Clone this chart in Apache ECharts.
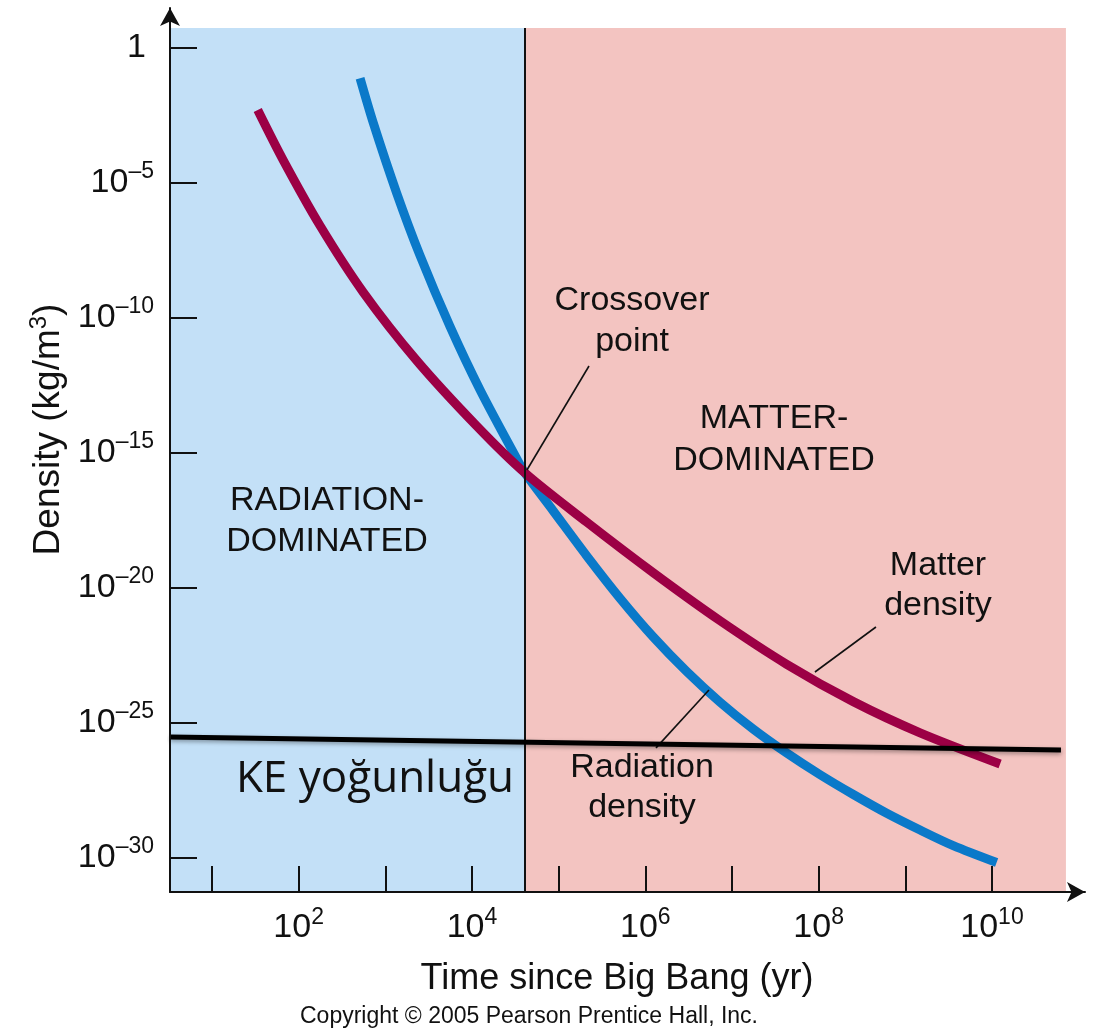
<!DOCTYPE html>
<html>
<head>
<meta charset="utf-8">
<script src="https://cdn.jsdelivr.net/npm/echarts@6/dist/echarts.min.js"></script>
<style>
  html, body { margin: 0; padding: 0; background: #ffffff; }
  #chart { width: 1093px; height: 1031px; }
</style>
</head>
<body>
<div id="chart"></div>
<script>
// ---- Data (years, kg/m^3) ----
const matterTime = [3.37e1, 6.65e1, 1.76e2, 5.57e2, 2.30e3, 1.13e4, 4.08e4, 2.10e5, 1.24e6, 7.26e6, 4.28e7, 2.51e8, 1.48e9, 1.24e10];
const matterDensity = [4.84e-3, 6.61e-5, 2.56e-7, 8.59e-10, 2.56e-12, 9.68e-15, 1.75e-16, 2.66e-18, 3.48e-20, 5.92e-22, 1.43e-23, 5.93e-25, 4.15e-26, 2.91e-27];

const radiationTime = [5.11e2, 7.26e2, 1.35e3, 2.51e3, 5.57e3, 1.24e4, 3.28e4, 4.08e4, 8.67e4, 2.10e5, 5.11e5, 1.24e6, 3.00e6, 7.26e6, 1.76e7, 4.28e7, 1.04e8, 2.51e8, 6.10e8, 1.48e9, 3.57e9, 1.13e10];
const radiationDensity = [7.23e-2, 1.61e-3, 4.12e-6, 2.00e-8, 4.70e-11, 2.08e-13, 5.96e-16, 1.75e-16, 6.84e-18, 1.51e-19, 3.98e-21, 1.45e-22, 7.74e-24, 5.70e-25, 5.69e-26, 7.40e-27, 1.16e-27, 2.15e-28, 4.35e-29, 1.04e-29, 2.75e-30, 6.52e-31];

const keTime = [3.28e0, 6.25e10];
const keDensity = [2.88e-26, 9.55e-27];

const crossoverTime = 4.08e4;

// tick positions as powers of ten
const xTickExp = [1, 2, 3, 4, 5, 6, 7, 8, 9, 10];
const xLabelExp = [2, 4, 6, 8, 10];
const yTickExp = [0, -5, -10, -15, -20, -25, -30];

// ---- Build ----
const FONT = "'Liberation Sans', Arial, Helvetica, sans-serif";
const L = Math.log10;
const toPairs = (ts, ds) => ts.map((t, i) => [L(t), L(ds[i])]);

const X_MIN = 0.5154, X_MAX = 11.073, Y_MIN = -31.278, Y_MAX = 1.463;
const REGION_TOP = 0.722, REGION_RIGHT = 10.853;
const xc = L(crossoverTime);

const rich = {
  b: { fontSize: 34, fontFamily: FONT, color: '#111', lineHeight: 44 },
  one: { fontSize: 34, fontFamily: FONT, color: '#111', lineHeight: 44, padding: [0, 8, 0, 0] },
  s: { fontSize: 23, fontFamily: FONT, color: '#111', lineHeight: 22, verticalAlign: 'top' }
};

const chart = echarts.init(document.getElementById('chart'), null, { renderer: 'canvas' });

const option = {
  backgroundColor: '#ffffff',
  animation: false,
  grid: { left: 170, right: 8, top: 8, bottom: 139, containLabel: false, outerBoundsMode: 'none' },
  xAxis: {
    type: 'value', min: X_MIN, max: X_MAX, z: 8,
    axisLine: { show: true, onZero: false, symbol: ['none', 'arrow'], symbolSize: [15, 18], lineStyle: { color: '#111', width: 2 } },
    axisTick: { show: true, inside: true, length: 26, customValues: xTickExp, lineStyle: { color: '#111', width: 2 } },
    axisLabel: {
      show: true, customValues: xLabelExp, margin: 14,
      formatter: v => '{b|10}{s|' + v + '}', rich: rich
    },
    splitLine: { show: false },
    name: 'Time since Big Bang (yr)', nameLocation: 'middle', nameGap: 69,
    nameTextStyle: { fontSize: 36, fontFamily: FONT, color: '#111', padding: [0, 21, 0, 0] }
  },
  yAxis: {
    type: 'value', min: Y_MIN, max: Y_MAX, z: 8,
    axisLine: { show: true, onZero: false, symbol: ['none', 'arrow'], symbolSize: [15, 18], lineStyle: { color: '#111', width: 2 } },
    axisTick: { show: true, inside: true, length: 27, customValues: yTickExp, lineStyle: { color: '#111', width: 2 } },
    axisLabel: {
      show: true, customValues: yTickExp, margin: 16,
      formatter: v => v === 0 ? '{one|1}' : '{b|10}{s|\u2013' + (-v) + '}', rich: rich
    },
    splitLine: { show: false },
    name: '{a|Density (kg/m}{t|3}{a|)}', nameLocation: 'middle', nameGap: 100,
    nameTextStyle: {
      padding: [0, 0, 0, 41],
      rich: {
        a: { fontSize: 37, fontFamily: FONT, color: '#111', lineHeight: 42 },
        t: { fontSize: 24, fontFamily: FONT, color: '#111', lineHeight: 24, verticalAlign: 'top' }
      }
    }
  },
  series: [
    {
      type: 'line', data: [], z: 1, silent: true,
      markArea: {
        silent: true,
        data: [
          [{ coord: [X_MIN, Y_MIN], itemStyle: { color: '#c3e0f7' } }, { coord: [xc, REGION_TOP] }],
          [{ coord: [xc, Y_MIN], itemStyle: { color: '#f3c4c1' } }, { coord: [REGION_RIGHT, REGION_TOP] }]
        ]
      }
    },
    {
      type: 'line', data: [], z: 2, silent: true,
      markLine: {
        silent: true, symbol: ['none', 'none'], label: { show: false },
        lineStyle: { color: '#111', width: 2, type: 'solid' },
        data: [
          [{ coord: [xc, REGION_TOP] }, { coord: [xc, Y_MIN] }],
          [{ coord: [5.350, -11.796], lineStyle: { width: 1.6 } }, { coord: [4.634, -15.648] }],
          [{ coord: [8.661, -21.463], lineStyle: { width: 1.6 } }, { coord: [7.957, -23.13] }],
          [{ coord: [6.734, -23.796], lineStyle: { width: 1.6 } }, { coord: [6.123, -25.94] }]
        ]
      }
    },
    {
      name: 'Radiation density', type: 'line', z: 3,
      data: toPairs(radiationTime, radiationDensity),
      smooth: 0.3, showSymbol: false,
      lineStyle: { color: '#0a79c9', width: 9, cap: 'butt' }
    },
    {
      name: 'Matter density', type: 'line', z: 4,
      data: toPairs(matterTime, matterDensity),
      smooth: 0.3, showSymbol: false,
      lineStyle: { color: '#9c0045', width: 9, cap: 'butt' }
    },
    {
      name: 'KE yoğunluğu', type: 'line', z: 5,
      data: toPairs(keTime, keDensity),
      showSymbol: false,
      lineStyle: { color: '#000', width: 5, shadowBlur: 4, shadowColor: 'rgba(0,0,0,0.35)', shadowOffsetY: 2 }
    }
  ],
  graphic: [
    { type: 'text', x: 632, y: 321, z: 10, style: { text: 'Crossover\npoint', fontSize: 34, fontFamily: FONT, fill: '#111', align: 'center', verticalAlign: 'middle', lineHeight: 41 } },
    { type: 'text', x: 774, y: 440, z: 10, style: { text: 'MATTER-\nDOMINATED', fontSize: 34, fontFamily: FONT, fill: '#111', align: 'center', verticalAlign: 'middle', lineHeight: 42 } },
    { type: 'text', x: 327, y: 521, z: 10, style: { text: 'RADIATION-\nDOMINATED', fontSize: 34, fontFamily: FONT, fill: '#111', align: 'center', verticalAlign: 'middle', lineHeight: 41 } },
    { type: 'text', x: 938, y: 586, z: 10, style: { text: 'Matter\ndensity', fontSize: 34, fontFamily: FONT, fill: '#111', align: 'center', verticalAlign: 'middle', lineHeight: 40 } },
    { type: 'text', x: 642, y: 788, z: 10, style: { text: 'Radiation\ndensity', fontSize: 34, fontFamily: FONT, fill: '#111', align: 'center', verticalAlign: 'middle', lineHeight: 40 } },
    { type: 'text', x: 375, y: 779, z: 10, style: { text: 'KE yoğunluğu', fontSize: 44, fontFamily: "'Open Sans', 'Noto Sans', sans-serif", fill: '#111', align: 'center', verticalAlign: 'middle' } },
    { type: 'text', x: 529, y: 1017, z: 10, style: { text: 'Copyright © 2005 Pearson Prentice Hall, Inc.', fontSize: 23, fontFamily: FONT, fill: '#111', align: 'center', verticalAlign: 'middle' } }
  ]
};

chart.setOption(option);
</script>
</body>
</html>
